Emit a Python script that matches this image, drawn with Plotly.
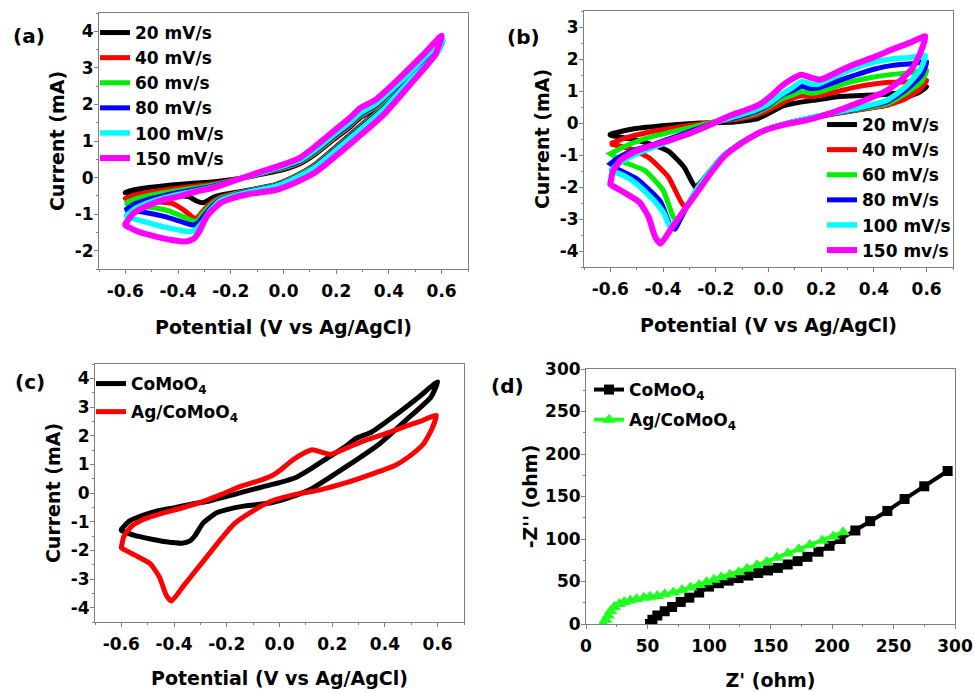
import plotly.graph_objects as go

FONT = "'DejaVu Sans', Arial, sans-serif"

# ---------------- Panel (a): CoMoO4 CV at different scan rates ----------------
a_names = ["20 mV/s", "40 mV/s", "60 mv/s", "80 mV/s", "100 mV/s", "150 mV/s"]

a20_v = [-0.60, -0.57, -0.51, -0.45, -0.40, -0.33, -0.27, -0.20, -0.14, -0.07, 0.00, 0.06, 0.12, 0.19, 0.25, 0.29, 0.35, 0.44, 0.53, 0.605,
         0.58, 0.48, 0.38, 0.25, 0.12, 0.05, -0.03, -0.13, -0.20, -0.24, -0.27, -0.29, -0.306, -0.33, -0.36, -0.45, -0.53, -0.60]
a20_i = [-0.41, -0.34, -0.27, -0.22, -0.19, -0.15, -0.12, -0.06, 0.01, 0.11, 0.22, 0.37, 0.64, 1.04, 1.37, 1.63, 1.90, 2.48, 3.15, 3.73,
         3.40, 2.73, 1.96, 1.16, 0.36, 0.06, -0.19, -0.34, -0.43, -0.48, -0.55, -0.64, -0.69, -0.64, -0.52, -0.46, -0.44, -0.42]

a40_v = [-0.60, -0.57, -0.51, -0.45, -0.40, -0.33, -0.27, -0.20, -0.14, -0.07, 0.00, 0.06, 0.12, 0.19, 0.25, 0.29, 0.35, 0.44, 0.53, 0.605,
         0.58, 0.48, 0.38, 0.25, 0.12, 0.05, -0.03, -0.13, -0.20, -0.24, -0.28, -0.31, -0.325, -0.338, -0.38, -0.42, -0.51, -0.60]
a40_i = [-0.57, -0.49, -0.40, -0.34, -0.29, -0.23, -0.18, -0.08, 0.01, 0.13, 0.25, 0.40, 0.67, 1.07, 1.40, 1.66, 1.93, 2.51, 3.17, 3.74,
         3.39, 2.72, 1.94, 1.14, 0.35, 0.05, -0.20, -0.35, -0.46, -0.54, -0.72, -0.95, -1.08, -1.11, -0.88, -0.71, -0.65, -0.57]

a60_v = [-0.60, -0.57, -0.51, -0.45, -0.40, -0.33, -0.27, -0.20, -0.14, -0.07, 0.00, 0.06, 0.12, 0.19, 0.25, 0.29, 0.35, 0.44, 0.53, 0.605,
         0.58, 0.48, 0.38, 0.25, 0.12, 0.05, -0.03, -0.13, -0.20, -0.24, -0.28, -0.31, -0.325, -0.338, -0.38, -0.45, -0.53, -0.60]
a60_i = [-0.70, -0.60, -0.49, -0.41, -0.35, -0.28, -0.21, -0.09, 0.02, 0.14, 0.27, 0.42, 0.69, 1.09, 1.42, 1.68, 1.95, 2.53, 3.19, 3.75,
         3.39, 2.71, 1.93, 1.12, 0.33, 0.04, -0.21, -0.36, -0.48, -0.57, -0.78, -1.02, -1.17, -1.20, -1.07, -0.88, -0.79, -0.70]

a80_v = [-0.60, -0.57, -0.51, -0.45, -0.40, -0.33, -0.27, -0.20, -0.14, -0.07, 0.00, 0.06, 0.12, 0.19, 0.25, 0.29, 0.35, 0.44, 0.53, 0.605,
         0.58, 0.48, 0.38, 0.25, 0.12, 0.05, -0.03, -0.13, -0.20, -0.24, -0.28, -0.31, -0.33, -0.345, -0.40, -0.45, -0.53, -0.60]
a80_i = [-0.89, -0.74, -0.59, -0.49, -0.41, -0.32, -0.24, -0.10, 0.02, 0.15, 0.29, 0.44, 0.72, 1.12, 1.45, 1.71, 1.98, 2.56, 3.21, 3.76,
         3.38, 2.69, 1.90, 1.10, 0.31, 0.02, -0.22, -0.37, -0.50, -0.60, -0.85, -1.12, -1.27, -1.30, -1.18, -1.07, -0.95, -0.89]

a100_v = [-0.60, -0.57, -0.51, -0.45, -0.40, -0.33, -0.27, -0.20, -0.14, -0.07, 0.00, 0.06, 0.12, 0.19, 0.25, 0.29, 0.35, 0.44, 0.53, 0.605,
          0.58, 0.48, 0.38, 0.25, 0.12, 0.05, -0.03, -0.13, -0.20, -0.24, -0.28, -0.31, -0.335, -0.357, -0.40, -0.46, -0.53, -0.60]
a100_i = [-1.07, -0.88, -0.68, -0.55, -0.46, -0.36, -0.27, -0.12, 0.02, 0.17, 0.32, 0.47, 0.76, 1.17, 1.50, 1.76, 2.02, 2.60, 3.24, 3.77,
          3.38, 2.66, 1.86, 1.06, 0.28, 0.00, -0.24, -0.39, -0.52, -0.63, -0.92, -1.25, -1.44, -1.48, -1.43, -1.34, -1.20, -1.07]

a150_v = [-0.60, -0.57, -0.51, -0.45, -0.40, -0.33, -0.27, -0.20, -0.14, -0.07, 0.00, 0.06, 0.12, 0.19, 0.25, 0.29, 0.35, 0.44, 0.53, 0.60,
          0.575, 0.48, 0.38, 0.25, 0.124, 0.05, -0.03, -0.13, -0.20, -0.24, -0.29, -0.32, -0.34, -0.37, -0.43, -0.48, -0.55, -0.60]
a150_i = [-1.27, -0.98, -0.75, -0.60, -0.52, -0.38, -0.29, -0.12, 0.03, 0.20, 0.36, 0.53, 0.85, 1.27, 1.62, 1.90, 2.13, 2.72, 3.36, 3.88,
          3.35, 2.54, 1.72, 0.90, 0.16, -0.12, -0.34, -0.45, -0.58, -0.70, -1.05, -1.48, -1.67, -1.75, -1.70, -1.62, -1.48, -1.30]

# ---------------- Panel (b): Ag/CoMoO4 CV at different scan rates ----------------
b_names = ["20 mV/s", "40 mV/s", "60 mV/s", "80 mV/s", "100 mV/s", "150 mv/s"]

b20_v = [-0.60, -0.51, -0.38, -0.26, -0.13, -0.04, 0.00, 0.06, 0.10, 0.18, 0.27, 0.35, 0.45, 0.52, 0.60,
         0.57, 0.50, 0.44, 0.33, 0.20, 0.10, 0.00, -0.10, -0.17, -0.22, -0.26, -0.278, -0.32, -0.38, -0.45, -0.53, -0.60]
b20_i = [-0.35, -0.18, -0.07, 0.00, 0.03, 0.14, 0.30, 0.55, 0.62, 0.72, 0.83, 0.86, 0.90, 0.98, 1.13,
         0.95, 0.74, 0.55, 0.40, 0.22, 0.05, -0.18, -0.60, -1.00, -1.48, -1.88, -2.00, -1.38, -0.88, -0.65, -0.49, -0.38]

b40_v = [-0.60, -0.55, -0.45, -0.32, -0.20, -0.12, -0.05, 0.00, 0.07, 0.125, 0.16, 0.19, 0.27, 0.33, 0.40, 0.47, 0.54, 0.60,
         0.57, 0.52, 0.45, 0.33, 0.20, 0.10, 0.00, -0.10, -0.17, -0.22, -0.27, -0.31, -0.325, -0.38, -0.45, -0.51, -0.60]
b40_i = [-0.65, -0.49, -0.28, -0.10, 0.04, 0.12, 0.24, 0.40, 0.70, 0.85, 0.82, 0.85, 1.00, 1.12, 1.22, 1.27, 1.29, 1.33,
         1.02, 0.76, 0.55, 0.40, 0.22, 0.05, -0.18, -0.60, -1.02, -1.50, -2.05, -2.57, -2.55, -1.69, -1.11, -0.85, -0.65]

b60_v = [-0.60, -0.55, -0.47, -0.38, -0.30, -0.20, -0.12, -0.05, 0.00, 0.05, 0.09, 0.125, 0.16, 0.19, 0.27, 0.33, 0.40, 0.47, 0.54, 0.60,
         0.58, 0.52, 0.45, 0.33, 0.20, 0.10, 0.00, -0.10, -0.17, -0.22, -0.27, -0.31, -0.34, -0.36, -0.40, -0.47, -0.55, -0.60]
b60_i = [-0.96, -0.75, -0.49, -0.30, -0.15, 0.05, 0.16, 0.30, 0.50, 0.75, 0.86, 0.98, 0.93, 0.96, 1.18, 1.32, 1.44, 1.52, 1.57, 1.65,
         1.28, 0.92, 0.60, 0.42, 0.23, 0.05, -0.18, -0.60, -1.02, -1.50, -2.05, -2.60, -3.06, -2.95, -2.10, -1.48, -1.22, -0.96]

b80_v = [-0.60, -0.565, -0.51, -0.45, -0.38, -0.32, -0.26, -0.20, -0.12, -0.05, 0.00, 0.05, 0.09, 0.125, 0.16, 0.19, 0.27, 0.33, 0.40, 0.47, 0.54, 0.60,
         0.58, 0.52, 0.45, 0.33, 0.20, 0.10, 0.00, -0.10, -0.17, -0.22, -0.27, -0.31, -0.34, -0.355, -0.375, -0.41, -0.50, -0.57, -0.60]
b80_i = [-1.27, -1.06, -0.85, -0.70, -0.50, -0.33, -0.15, 0.03, 0.18, 0.35, 0.55, 0.86, 1.00, 1.15, 1.08, 1.10, 1.33, 1.50, 1.68, 1.80, 1.85, 1.91,
         1.49, 1.02, 0.66, 0.43, 0.23, 0.05, -0.18, -0.60, -1.02, -1.50, -2.05, -2.62, -3.10, -3.32, -3.15, -2.45, -1.74, -1.45, -1.27]

b100_v = [-0.60, -0.56, -0.51, -0.45, -0.38, -0.32, -0.26, -0.20, -0.12, -0.05, 0.00, 0.05, 0.09, 0.125, 0.16, 0.19, 0.27, 0.33, 0.40, 0.47, 0.54, 0.595,
          0.575, 0.52, 0.45, 0.33, 0.20, 0.10, 0.00, -0.10, -0.17, -0.22, -0.27, -0.31, -0.345, -0.375, -0.395, -0.435, -0.50, -0.55, -0.60]
b100_i = [-1.48, -1.22, -1.00, -0.80, -0.58, -0.39, -0.20, 0.02, 0.22, 0.40, 0.60, 0.90, 1.10, 1.30, 1.22, 1.22, 1.52, 1.72, 1.90, 2.00, 2.05, 2.11,
          1.65, 1.13, 0.71, 0.45, 0.24, 0.05, -0.18, -0.60, -1.02, -1.50, -2.05, -2.60, -3.00, -3.22, -2.85, -2.42, -1.90, -1.64, -1.48]

b150_v = [-0.60, -0.59, -0.56, -0.51, -0.45, -0.38, -0.30, -0.22, -0.15, -0.08, -0.03, 0.01, 0.05, 0.09, 0.125, 0.16, 0.195, 0.27, 0.33, 0.40, 0.47, 0.54, 0.595,
          0.575, 0.545, 0.50, 0.44, 0.35, 0.25, 0.15, 0.06, -0.03, -0.10, -0.17, -0.22, -0.27, -0.32, -0.365, -0.41, -0.43, -0.455, -0.49, -0.55, -0.60]
b150_i = [-1.90, -1.50, -1.15, -0.90, -0.72, -0.55, -0.33, -0.05, 0.22, 0.42, 0.60, 0.85, 1.15, 1.38, 1.51, 1.42, 1.35, 1.63, 1.85, 2.06, 2.30, 2.52, 2.71,
          2.17, 1.70, 1.33, 0.97, 0.66, 0.35, 0.10, -0.05, -0.28, -0.62, -1.06, -1.58, -2.16, -2.73, -3.25, -3.77, -3.56, -2.94, -2.47, -2.16, -1.92]

# ---------------- Panel (c): comparison at 150 mV/s ----------------
c_names = ["CoMoO<sub>4</sub>", "Ag/CoMoO<sub>4</sub>"]

# ---------------- Panel (d): Nyquist plots ----------------
d_names = ["CoMoO<sub>4</sub>", "Ag/CoMoO<sub>4</sub>"]
d_como_zre = [52, 54, 58, 64, 70, 77, 84, 92, 100, 108, 116, 124, 132, 140, 148, 156, 164, 172, 180, 189, 198, 207, 219, 231, 245, 259, 275, 294]
d_como_zim = [0, 5, 10, 15, 20, 26, 31, 37, 44, 48, 51, 54, 57, 60, 63, 66, 70, 74, 79, 85, 92, 100, 110, 121, 133, 147, 162, 180]
d_ag_zre = [14, 16, 18, 20, 23, 27, 31, 36, 41, 47, 52, 58, 64, 71, 78, 85, 92, 98, 104, 110, 117, 124, 131, 139, 147, 155, 164, 173, 182, 192, 201, 209]
d_ag_zim = [0, 5, 10, 15, 20, 23.5, 26, 27.5, 29.5, 31, 32, 33, 35, 37, 40, 43, 46, 49, 52, 55, 58, 61, 65, 69, 73, 78, 83, 88, 93, 98, 103, 108]

# ---------------- Tick labels ----------------
cv_xticks = [-0.6, -0.4, -0.2, 0.0, 0.2, 0.4, 0.6]
cv_xtext = ["-0.6", "-0.4", "-0.2", "0.0", "0.2", "0.4", "0.6"]
a_yticks = [-2, -1, 0, 1, 2, 3, 4]
a_ytext = ["-2", "-1", "0", "1", "2", "3", "4"]
b_yticks = [-4, -3, -2, -1, 0, 1, 2, 3]
b_ytext = ["-4", "-3", "-2", "-1", "0", "1", "2", "3"]
c_yticks = [-4, -3, -2, -1, 0, 1, 2, 3, 4]
c_ytext = ["-4", "-3", "-2", "-1", "0", "1", "2", "3", "4"]
d_ticks = [0, 50, 100, 150, 200, 250, 300]
d_text = ["0", "50", "100", "150", "200", "250", "300"]

colors6 = ["#000000", "#ff0000", "#00ee00", "#0000ff", "#00ffff", "#ff00ff"]
widths6 = [5, 5, 5, 5, 5.5, 6]

fig = go.Figure()

a_sets = [(a20_v, a20_i), (a40_v, a40_i), (a60_v, a60_i), (a80_v, a80_i), (a100_v, a100_i), (a150_v, a150_i)]
for (v, i), nm, c, w in zip(a_sets, a_names, colors6, widths6):
    fig.add_trace(go.Scatter(x=v + [v[0]], y=i + [i[0]], mode="lines", name=nm,
                             line=dict(color=c, width=w, shape="spline", smoothing=0.5),
                             xaxis="x", yaxis="y", legend="legend"))

b_sets = [(b20_v, b20_i), (b40_v, b40_i), (b60_v, b60_i), (b80_v, b80_i), (b100_v, b100_i), (b150_v, b150_i)]
for (v, i), nm, c, w in zip(b_sets, b_names, colors6, widths6):
    fig.add_trace(go.Scatter(x=v + [v[0]], y=i + [i[0]], mode="lines", name=nm,
                             line=dict(color=c, width=w, shape="spline", smoothing=0.5),
                             xaxis="x2", yaxis="y2", legend="legend2"))

for k, ((v, i), nm, c) in enumerate(zip([(a150_v, a150_i), (b150_v, b150_i)], c_names, ["#000000", "#ff0000"])):
    fig.add_trace(go.Scatter(x=v + [v[0]], y=i + [i[0]], mode="lines", name=nm,
                             line=dict(color=c, width=5, shape="spline", smoothing=0.5),
                             xaxis="x3", yaxis="y3", legend="legend3", legendgroup="c%d" % k))

fig.add_trace(go.Scatter(x=d_como_zre, y=d_como_zim, mode="lines+markers", name=d_names[0],
                         line=dict(color="#000000", width=4),
                         marker=dict(symbol="square", size=10, color="#000000"),
                         xaxis="x4", yaxis="y4", legend="legend4", legendgroup="d0"))
fig.add_trace(go.Scatter(x=d_ag_zre, y=d_ag_zim, mode="lines+markers", name=d_names[1],
                         line=dict(color="#22ff22", width=4),
                         marker=dict(symbol="triangle-up", size=12, color="#22ff22"),
                         xaxis="x4", yaxis="y4", legend="legend4", legendgroup="d1"))

W, H = 974, 692
AXC = "#7f7f7f"
tickfont = dict(family=FONT, size=17, color="black", weight="bold")
titlefont = dict(family=FONT, size=19, color="black", weight="bold")


def xdom(l, r):
    return [l / W, r / W]


def ydom(t, b):
    return [1 - b / H, 1 - t / H]


def axis(dom, rng, tv, tt, mdt, title, standoff, anchor, lblstand):
    return dict(domain=dom, range=rng, tickmode="array", tickvals=tv, ticktext=tt,
                ticks="outside", ticklen=4, tickwidth=1, tickcolor=AXC,
                showline=True, linecolor=AXC, linewidth=1, mirror=True,
                showgrid=False, zeroline=False, tickfont=tickfont, ticklabelstandoff=lblstand,
                minor=dict(ticks="outside", ticklen=2, tickwidth=1, tickcolor=AXC, dtick=mdt, tick0=0, showgrid=False),
                title=dict(text=title, font=titlefont, standoff=standoff),
                anchor=anchor, automargin=False)


ptitle = "Potential (V vs Ag/AgCl)"
ctitle = "Current (mA)"

layout = dict(
    width=W, height=H, autosize=False,
    margin=dict(l=0, r=0, t=0, b=0),
    paper_bgcolor="white", plot_bgcolor="white",
    font=dict(family=FONT, color="black"),
    xaxis=axis(xdom(99, 468), [-0.7, 0.7], cv_xticks, cv_xtext, 0.1, ptitle, 20, "y", 3),
    yaxis=axis(ydom(13, 269), [-2.5, 4.5], a_yticks, a_ytext, 0.5, ctitle, 5, "x", -3),
    xaxis2=axis(xdom(584, 953), [-0.7, 0.7], cv_xticks, cv_xtext, 0.1, ptitle, 20, "y2", 3),
    yaxis2=axis(ydom(11, 267), [-4.5, 3.5], b_yticks, b_ytext, 0.5, ctitle, 5, "x2", -3),
    xaxis3=axis(xdom(95, 464), [-0.7, 0.7], cv_xticks, cv_xtext, 0.1, ptitle, 18, "y3", 3),
    yaxis3=axis(ydom(364, 622), [-4.5, 4.5], c_yticks, c_ytext, 0.5, ctitle, 5, "x3", -3),
    xaxis4=axis(xdom(586, 955), [0, 300], d_ticks, d_text, 25, "Z' (ohm)", 18, "y4", 3),
    yaxis4=axis(ydom(369, 624), [0, 300], d_ticks, d_text, 25, "-Z'' (ohm)", 2, "x4", -3),
)

legfont = dict(family=FONT, size=17, color="black", weight="bold")
common_leg = dict(xanchor="left", yanchor="top", bgcolor="rgba(0,0,0,0)", borderwidth=0,
                  font=legfont, itemwidth=30)
layout["legend"] = dict(x=95 / W, y=1 - 15 / H, tracegroupgap=0, traceorder="normal", **common_leg)
layout["legend2"] = dict(x=822 / W, y=1 - 107 / H, tracegroupgap=0, traceorder="normal", **common_leg)
layout["legend3"] = dict(x=91 / W, y=1 - 366 / H, tracegroupgap=3, traceorder="grouped", **common_leg)
layout["legend4"] = dict(x=589 / W, y=1 - 372 / H, tracegroupgap=5, traceorder="grouped", **common_leg)

panel_labels = [("(a)", 29, 36), ("(b)", 523, 37), ("(c)", 30, 382), ("(d)", 508, 386)]
layout["annotations"] = [
    dict(text=t, x=px / W, y=1 - py / H, xref="paper", yref="paper", showarrow=False,
         xanchor="center", yanchor="middle", font=dict(family=FONT, size=20, color="black", weight="bold"))
    for t, px, py in panel_labels
]

fig.update_layout(**layout)
fig.write_html("out.html", config={"displayModeBar": False},
               post_script="document.body.style.margin='0px';document.body.style.padding='0px';")
